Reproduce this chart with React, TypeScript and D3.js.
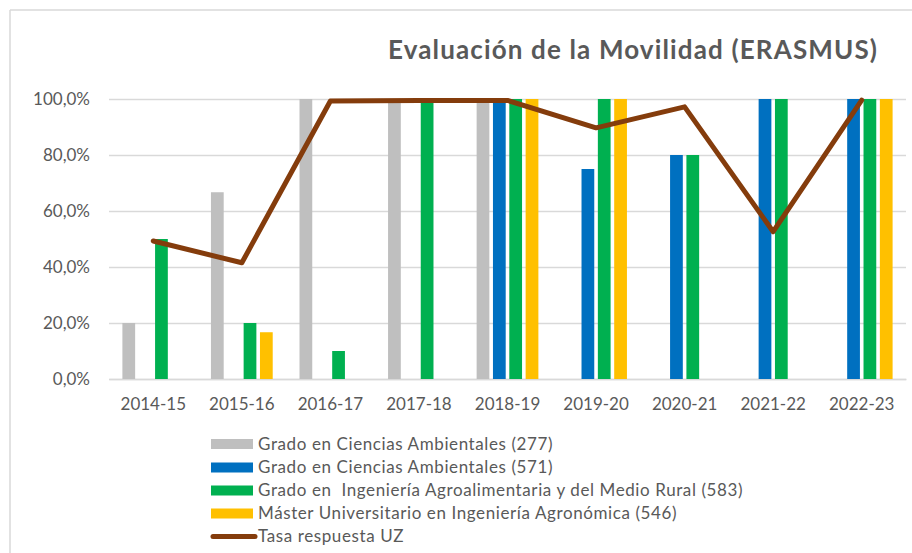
import React, { useEffect, useRef } from "react";
import * as d3 from "d3";

const cursos = ["2014-15", "2015-16", "2016-17", "2017-18", "2018-19", "2019-20", "2020-21", "2021-22", "2022-23"];

const series = [
  "Grado en Ciencias Ambientales (277)",
  "Grado en Ciencias Ambientales (571)",
  "Grado en  Ingeniería Agroalimentaria y del Medio Rural (583)",
  "Máster Universitario en Ingeniería Agronómica (546)",
];
const colores = ["#BFBFBF", "#0070C0", "#00B050", "#FFC000"];

// null = sin dato
const ambientales277 = [0.2, 0.667, 1, 1, 1, null, null, null, null];
const ambientales571 = [null, null, null, null, 1, 0.75, 0.8, 1, 1];
const agroalimentaria583 = [0.5, 0.2, 0.1, 1, 1, 1, 0.8, 1, 1];
const master546 = [null, 0.167, null, null, 1, 1, null, null, 1];

const tasaUZ = [0.493, 0.415, 0.993, 0.995, 0.995, 0.897, 0.972, 0.526, 0.996];
const lineaNombre = "Tasa respuesta UZ";
const lineaColor = "#843C0C";

const yTicks = [0, 0.2, 0.4, 0.6, 0.8, 1];
const titulo = "Evaluación de la Movilidad (ERASMUS)";

const W = 912, H = 553;
const FONT = "Lato, 'Liberation Sans', sans-serif";
const TXT = "#595959";

export default function App() {
  const svgRef = useRef<SVGSVGElement>(null);

  useEffect(() => {
    const svg = d3.select(svgRef.current);
    svg.selectAll("*").remove();

    const valores = [ambientales277, ambientales571, agroalimentaria583, master546];

    const x0 = d3.scaleBand().domain(cursos).range([109, 906]).padding(0);
    const x1 = d3.scaleBand<number>()
      .domain([0, 1, 2, 3])
      .range([0, x0.bandwidth()])
      .paddingInner(0.22)
      .paddingOuter(0.82);
    const y = d3.scaleLinear().domain([0, 1]).range([379, 99]);

    // marco
    svg.append("line").attr("x1", 10).attr("x2", 10).attr("y1", 10).attr("y2", H)
      .attr("stroke", "#D9D9D9").attr("stroke-width", 1.5);
    svg.append("line").attr("x1", 10).attr("x2", W).attr("y1", 10).attr("y2", 10)
      .attr("stroke", "#D9D9D9").attr("stroke-width", 1.5);

    // titulo
    svg.append("text")
      .attr("x", 388).attr("y", 59)
      .attr("textLength", 489).attr("lengthAdjust", "spacing")
      .attr("font-family", FONT).attr("font-weight", "bold")
      .attr("font-size", 26).attr("fill", TXT)
      .text(titulo);

    // rejilla + eje Y
    const yAxis = d3.axisLeft(y).tickValues(yTicks)
      .tickSize(-(906 - 109)).tickPadding(19)
      .tickFormat((d) => d3.format(".1f")(+d * 100).replace(".", ",") + "%");
    const gy = svg.append("g").attr("transform", "translate(109,0)").call(yAxis);
    gy.select(".domain").remove();
    gy.selectAll(".tick line").attr("stroke", "#D9D9D9").attr("stroke-width", 1.5);
    gy.selectAll(".tick text").attr("font-family", FONT).attr("font-size", 17).attr("fill", TXT);

    // eje X
    const xAxis = d3.axisBottom(x0).tickSize(0).tickPadding(19);
    const gx = svg.append("g").attr("transform", "translate(0,379)").call(xAxis);
    gx.select(".domain").attr("stroke", "#D9D9D9").attr("stroke-width", 1.5);
    gx.selectAll(".tick text").attr("font-family", FONT).attr("font-size", 17).attr("fill", TXT);

    // barras
    valores.forEach((vals, s) => {
      svg.append("g")
        .attr("fill", colores[s])
        .selectAll("rect")
        .data(cursos.map((c, i) => ({ c, v: vals[i] })).filter((d) => d.v != null))
        .join("rect")
        .attr("x", (d) => (x0(d.c) as number) + (x1(s) as number))
        .attr("width", x1.bandwidth())
        .attr("y", (d) => y(d.v as number))
        .attr("height", (d) => y(0) - y(d.v as number));
    });

    // linea
    const linea = d3.line<number>()
      .x((_, i) => (x0(cursos[i]) as number) + x0.bandwidth() / 2)
      .y((d) => y(d));
    svg.append("path")
      .attr("d", linea(tasaUZ))
      .attr("fill", "none")
      .attr("stroke", lineaColor)
      .attr("stroke-width", 5)
      .attr("stroke-linejoin", "round")
      .attr("stroke-linecap", "round");

    // leyenda
    const leg = svg.append("g");
    const rowY = [444, 467.5, 490.5, 513.5, 536.5];
    series.forEach((name, i) => {
      leg.append("rect").attr("x", 211).attr("y", rowY[i] - 5).attr("width", 42).attr("height", 10)
        .attr("fill", colores[i]);
      leg.append("text").attr("x", 258).attr("y", rowY[i]).attr("dy", "0.35em")
        .attr("font-family", FONT).attr("font-size", 17).attr("fill", TXT)
        .attr("letter-spacing", 0.6)
        .style("white-space", "pre")
        .text(name);
    });
    leg.append("line").attr("x1", 213).attr("x2", 255).attr("y1", rowY[4]).attr("y2", rowY[4])
      .attr("stroke", lineaColor).attr("stroke-width", 5).attr("stroke-linecap", "round");
    leg.append("text").attr("x", 258).attr("y", rowY[4]).attr("dy", "0.35em")
      .attr("font-family", FONT).attr("font-size", 17).attr("fill", TXT)
      .attr("letter-spacing", 0.6)
      .text(lineaNombre);
  }, []);

  return (
    <div style={{ position: "absolute", left: 0, top: 0, width: W, height: H, background: "#fff" }}>
      <svg ref={svgRef} width={W} height={H} style={{ display: "block" }} />
    </div>
  );
}
